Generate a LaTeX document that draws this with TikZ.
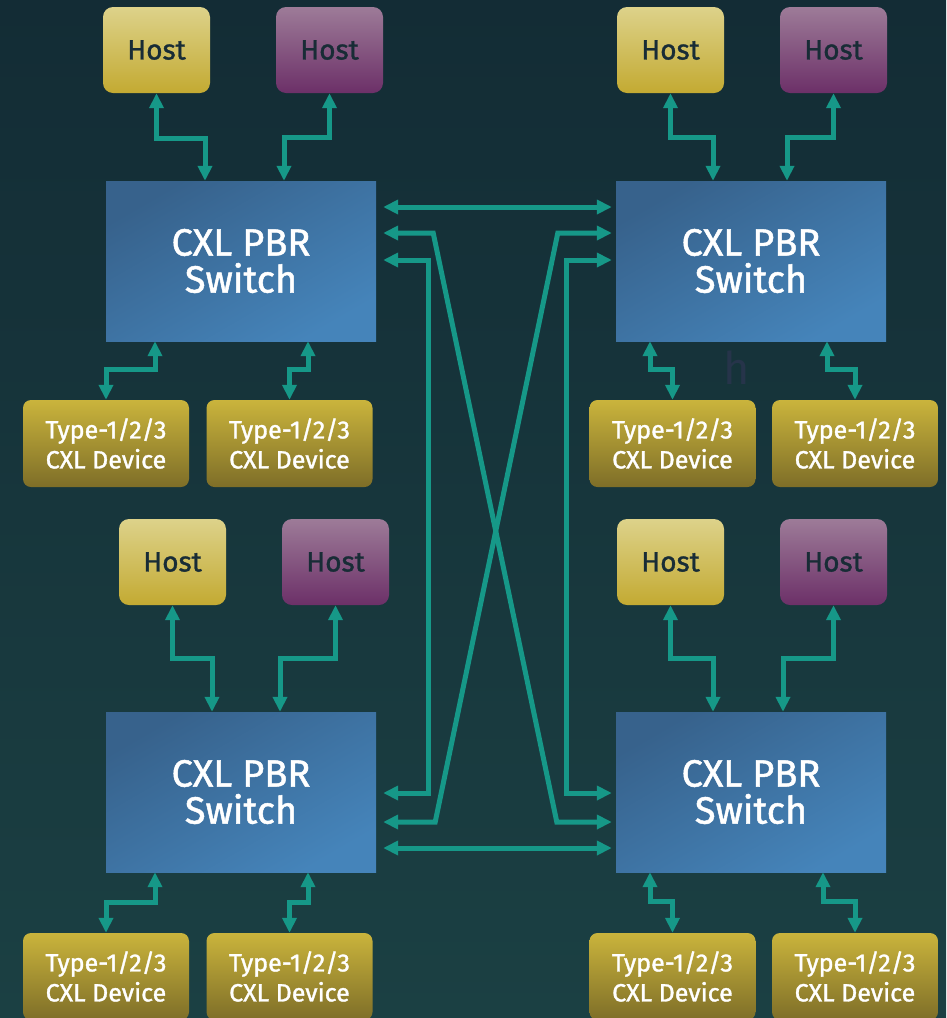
\documentclass[tikz,border=0pt]{standalone}
\usepackage{fontspec}
\setmainfont{Fira Sans}
\newfontfamily\medfont{Fira Sans}[FakeBold=1.3]
\usetikzlibrary{arrows.meta,calc}
\definecolor{bgtop}{RGB}{19,44,53}
\definecolor{bgbot}{RGB}{27,64,67}
\definecolor{teal}{RGB}{22,152,136}
\definecolor{swa}{RGB}{55,98,140}
\definecolor{swb}{RGB}{69,132,186}
\definecolor{hya}{RGB}{221,210,138}
\definecolor{hyb}{RGB}{195,170,50}
\definecolor{hpa}{RGB}{157,123,152}
\definecolor{hpb}{RGB}{108,48,104}
\definecolor{dva}{RGB}{202,180,60}
\definecolor{dvb}{RGB}{126,110,40}
\definecolor{hosttxt}{RGB}{24,44,54}
\definecolor{ghostc}{RGB}{38,52,74}
\tikzset{
  hostbox/.style={rectangle, rounded corners=10pt, minimum width=107pt, minimum height=86pt, inner sep=0pt,
    text=hosttxt, font=\medfont\fontsize{28}{32}\selectfont},
  hosty/.style={hostbox, top color=hya, bottom color=hyb},
  hostp/.style={hostbox, top color=hpa, bottom color=hpb},
  switchbox/.style={rectangle, minimum width=270pt, minimum height=160pt, inner sep=0pt,
    top color=swa, bottom color=swb, shading angle=30, text=white, align=center,
    font=\medfont\fontsize{38}{37}\selectfont},
  devbox/.style={rectangle, rounded corners=8pt, minimum width=166pt, minimum height=87pt, inner sep=0pt,
    top color=dva, bottom color=dvb, text=white, align=center, font=\medfont\fontsize{25}{30}\selectfont},
  link/.style={draw=teal, line width=5pt, line join=miter,
    arrows={Triangle[width=14pt,length=15pt]-Triangle[width=14pt,length=15pt]}}
}
\begin{document}
\begin{tikzpicture}[x=1pt,y=-1pt]
\shade[top color=bgtop, bottom color=bgbot] (0,0) rectangle (946,1018);
\useasboundingbox (0,0) rectangle (946,1018);
\node[text=ghostc, font=\fontsize{45}{45}\selectfont] (ghost) at (737,368) {h};

% ---- top-left block
\node[hosty] (hA1) at (156.5,50) {Host};
\node[hostp] (hA2) at (329.5,50) {Host};
\node[switchbox] (swA) at (241,261) {CXL PBR\\Switch};
\node[devbox] (dA1) at (106,443.5) {Type-1/2/3\\CXL Device};
\node[devbox] (dA2) at (289.5,443.5) {Type-1/2/3\\CXL Device};
% ---- top-right block
\node[hosty] (hB1) at (670.5,50) {Host};
\node[hostp] (hB2) at (833.5,50) {Host};
\node[switchbox] (swB) at (751,261) {CXL PBR\\Switch};
\node[devbox] (dB1) at (672.5,443.5) {Type-1/2/3\\CXL Device};
\node[devbox] (dB2) at (855,443.5) {Type-1/2/3\\CXL Device};
% ---- bottom-left block
\node[hosty] (hC1) at (172.5,562) {Host};
\node[hostp] (hC2) at (335.5,562) {Host};
\node[switchbox] (swC) at (241,792) {CXL PBR\\Switch};
\node[devbox] (dC1) at (106,976.5) {Type-1/2/3\\CXL Device};
\node[devbox] (dC2) at (289.5,976.5) {Type-1/2/3\\CXL Device};
% ---- bottom-right block
\node[hosty] (hD1) at (670.5,562) {Host};
\node[hostp] (hD2) at (833.5,562) {Host};
\node[switchbox] (swD) at (751,792) {CXL PBR\\Switch};
\node[devbox] (dD1) at (672.5,976.5) {Type-1/2/3\\CXL Device};
\node[devbox] (dD2) at (855,976.5) {Type-1/2/3\\CXL Device};

% ---- host/device links
\draw[link] (hA1.south) -- ++(0,45) -| ([xshift=-36pt]swA.north);
\draw[link] (hA2.south) -- ++(0,44) -| ([xshift=43pt]swA.north);
\draw[link] ([xshift=-86pt]swA.south) -- ++(0,28) -| (dA1.north);
\draw[link] ([xshift=67pt]swA.south) -- ++(0,28) -| (dA2.north);

\draw[link] (hB1.south) -- ++(0,44) -| ([xshift=-38pt]swB.north);
\draw[link] (hB2.south) -- ++(0,44) -| ([xshift=36pt]swB.north);
\draw[link] ([xshift=-101pt]swB.south) -- ++(0,28) -| (dB1.north);
\draw[link] ([xshift=76pt]swB.south) -- ++(0,28) -| (dB2.north);

\draw[link] (hC1.south) -- ++(0,53) -| ([xshift=-29pt]swC.north);
\draw[link] (hC2.south) -- ++(0,53) -| ([xshift=39pt]swC.north);
\draw[link] ([xshift=-86pt]swC.south) -- ++(0,30) -| (dC1.north);
\draw[link] ([xshift=67pt]swC.south) -- ++(0,30) -| (dC2.north);

\draw[link] (hD1.south) -- ++(0,53) -| ([xshift=-38pt]swD.north);
\draw[link] (hD2.south) -- ++(0,53) -| ([xshift=32pt]swD.north);
\draw[link] ([xshift=-101pt]swD.south) -- ++(0,29) -| (dD1.north);
\draw[link] ([xshift=72pt]swD.south) -- ++(0,29) -| (dD2.north);

% ---- switch interconnect
\draw[link, shorten <=7pt, shorten >=4pt] ([yshift=54pt]swA.east) -- ([yshift=54pt]swB.west);
\draw[link, shorten <=7pt, shorten >=4pt] ([yshift=28pt]swA.east) -- ++(57,0)
  -- ([xshift=-59pt,yshift=-30pt]swD.west) -- ([yshift=-30pt]swD.west);
\draw[link, shorten <=7pt, shorten >=7pt] ([yshift=1pt]swA.east) -- ++(52,0) |- ([yshift=-1pt]swC.east);
\draw[link, shorten <=4pt, shorten >=7pt] ([yshift=28pt]swB.west) -- ++(-58,0)
  -- ([xshift=59pt,yshift=-30pt]swC.east) -- ([yshift=-30pt]swC.east);
\draw[link, shorten <=4pt, shorten >=4pt] ([yshift=1pt]swB.west) -- ++(-49,0) |- ([yshift=-1pt]swD.west);
\draw[link, shorten <=7pt, shorten >=4pt] ([yshift=-56pt]swC.east) -- ([yshift=-56pt]swD.west);
\end{tikzpicture}
\end{document}
